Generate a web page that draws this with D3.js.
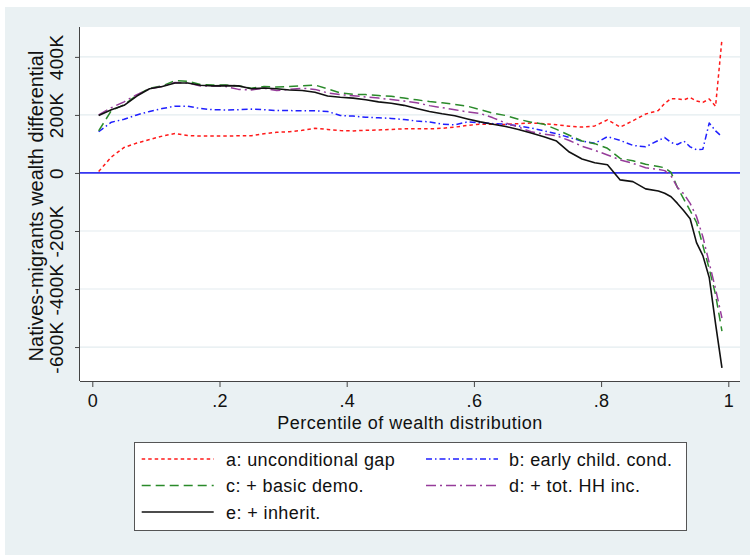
<!DOCTYPE html>
<html>
<head>
<meta charset="utf-8">
<script src="https://cdn.jsdelivr.net/npm/d3@7"></script>
<style>
  html, body { margin: 0; padding: 0; background: #ffffff; }
  svg text { font-family: "Liberation Sans", Arial, sans-serif; fill: #111; }
</style>
</head>
<body>
<svg id="chart" width="750" height="555"></svg>
<script>
// Percentile grid (x values shared by all series)
const pct = [0.01,0.03,0.05,0.07,0.09,0.11,0.13,0.15,0.17,0.19,0.21,0.23,0.25,0.27,0.29,0.31,0.33,0.35,0.37,0.39,
             0.41,0.43,0.45,0.47,0.49,0.51,0.53,0.55,0.57,0.59,0.61,0.63,0.65,0.67,0.69,0.71,0.73,0.75,0.77,0.79,
             0.81,0.83,0.85,0.87,0.89,0.90,0.91,0.92,0.93,0.94,0.95,0.96,0.97,0.98,0.99];

// Natives-migrants wealth differential, in thousands
const gapA = [5,55,88,103,115,127,136,129,127,127,127,128,128,135,140,142,147,154,150,146,
              145,147,148,150,152,152,152,154,158,164,168,168,167,170,172,170,166,161,158,162,
              183,158,180,203,215,240,256,255,252,260,248,243,255,230,460];
const gapB = [142,175,185,200,212,222,230,230,222,218,217,218,220,218,215,215,214,214,212,198,
              196,192,190,188,184,179,176,168,166,176,173,170,168,162,155,145,135,122,110,102,
              125,112,95,90,112,122,105,98,110,90,80,82,172,145,125];
const gapC = [145,215,235,268,292,300,318,316,305,303,303,300,292,298,296,298,300,303,290,276,
              271,270,267,264,258,252,246,242,236,230,218,206,198,185,175,168,150,130,110,101,
              85,50,42,30,22,18,2,-50,-90,-130,-170,-250,-330,-420,-545];
const gapD = [200,225,245,270,290,298,312,310,300,300,298,288,286,292,284,288,292,288,276,270,
              266,262,258,253,248,242,232,225,218,210,205,190,172,158,142,134,128,112,92,78,
              62,45,33,18,12,8,-10,-50,-72,-105,-150,-220,-310,-400,-500];
const gapE = [198,218,233,265,290,298,310,310,302,300,301,300,290,293,290,286,284,278,265,261,
              258,252,245,240,233,222,212,204,197,186,176,168,160,150,138,125,110,72,48,35,
              28,-24,-30,-55,-62,-70,-82,-105,-130,-158,-240,-285,-360,-520,-672];

const seriesLabels = ["a: unconditional gap", "b: early child. cond.", "c: + basic demo.",
                      "d: + tot. HH inc.", "e: + inherit."];
const xTicks = [0, 0.2, 0.4, 0.6, 0.8, 1];
const xTickLabels = ["0", ".2", ".4", ".6", ".8", "1"];
const yTicks = [400, 200, 0, -200, -400, -600];
const yTickLabels = ["400K", "200K", "0", "-200K", "-400K", "-600K"];

const svg = d3.select("#chart");

// Graph region background
svg.append("rect").attr("x", 5).attr("y", 7).attr("width", 745).attr("height", 548)
  .attr("fill", "#eaf1f3");

// Plot region
const region = { left: 80, right: 740, top: 27, bottom: 381 };
svg.append("rect").attr("x", region.left).attr("y", region.top)
  .attr("width", region.right - region.left).attr("height", region.bottom - region.top)
  .attr("fill", "#ffffff");

const x = d3.scaleLinear().domain([0, 1]).range([92.3, 728.3]);
const y = d3.scaleLinear().domain([-717, 503]).range([region.bottom, region.top]);

// Horizontal grid lines
svg.append("g").selectAll("line").data(yTicks).join("line")
  .attr("x1", region.left).attr("x2", region.right)
  .attr("y1", d => y(d)).attr("y2", d => y(d))
  .attr("stroke", "#e3ecef").attr("stroke-width", 1.2);

// Zero reference line
svg.append("line")
  .attr("x1", region.left).attr("x2", region.right)
  .attr("y1", y(0)).attr("y2", y(0))
  .attr("stroke", "#3535f2").attr("stroke-width", 1.7);

// Series lines
const series = [
  { values: gapA, color: "#ff1a1a", dash: "3.5,3", width: 1.5 },
  { values: gapB, color: "#1f1fff", dash: "6,3,1.5,3", width: 1.5 },
  { values: gapC, color: "#2a8a2a", dash: "9,5", width: 1.5 },
  { values: gapD, color: "#963c9a", dash: "10,4,2,4", width: 1.5 },
  { values: gapE, color: "#111111", dash: null, width: 1.6 }
];
const line = d3.line().x(d => x(d[0])).y(d => y(d[1]));
svg.append("g").selectAll("path").data(series).join("path")
  .attr("d", s => line(pct.map((p, i) => [p, s.values[i]])))
  .attr("fill", "none")
  .attr("stroke", s => s.color)
  .attr("stroke-width", s => s.width)
  .attr("stroke-dasharray", s => s.dash)
  .attr("stroke-linejoin", "round");

// Axes
const axisColor = "#444";
const xAxis = d3.axisBottom(x).tickValues(xTicks).tickSize(6)
  .tickFormat((d, i) => xTickLabels[i]);
const gx = svg.append("g").attr("transform", `translate(0,${region.bottom})`).call(xAxis);
gx.select(".domain").attr("d", `M${region.left},0.5H${region.right}`).attr("stroke", axisColor);
gx.selectAll(".tick line").attr("stroke", axisColor);
gx.selectAll(".tick text").attr("y", 26).attr("dy", 0)
  .attr("font-size", 18).style("letter-spacing", "0.3px").attr("fill", "#111");

const yAxis = d3.axisLeft(y).tickValues(yTicks).tickSize(5)
  .tickFormat((d, i) => yTickLabels[i]);
const gy = svg.append("g").attr("transform", `translate(${region.left},0)`).call(yAxis);
gy.select(".domain").attr("d", `M-0.5,${region.top}V${region.bottom}`).attr("stroke", axisColor);
gy.selectAll(".tick line").attr("stroke", axisColor);
gy.selectAll(".tick text")
  .attr("x", 0).attr("dy", 0)
  .attr("transform", "translate(-17,0) rotate(-90)")
  .attr("text-anchor", "middle")
  .attr("font-size", 19).style("letter-spacing", "0.3px").attr("fill", "#111");

// Axis titles
svg.append("text")
  .attr("x", 410).attr("y", 429)
  .attr("text-anchor", "middle").attr("font-size", 18).style("letter-spacing", "0.5px")
  .text("Percentile of wealth distribution");
svg.append("text")
  .attr("transform", `translate(43,${(region.top + region.bottom) / 2 + 2}) rotate(-90)`)
  .attr("text-anchor", "middle").attr("font-size", 20)
  .text("Natives-migrants wealth differential");

// Legend
const legend = svg.append("g");
legend.append("rect").attr("x", 134.5).attr("y", 442.5).attr("width", 552).attr("height", 88)
  .attr("fill", "#ffffff").attr("stroke", "#555").attr("stroke-width", 1);
const legendPos = [
  { sx: 141.7, tx: 226, cy: 459 },
  { sx: 426, tx: 509, cy: 459 },
  { sx: 141.7, tx: 226, cy: 485.5 },
  { sx: 426, tx: 509, cy: 485.5 },
  { sx: 141.7, tx: 226, cy: 512 }
];
series.forEach((s, i) => {
  const p = legendPos[i];
  legend.append("line")
    .attr("x1", p.sx).attr("x2", p.sx + 72).attr("y1", p.cy).attr("y2", p.cy)
    .attr("stroke", s.color).attr("stroke-width", s.width)
    .attr("stroke-dasharray", s.dash);
  legend.append("text")
    .attr("x", p.tx).attr("y", p.cy + 6.5)
    .attr("font-size", 18).style("letter-spacing", "0.4px")
    .text(seriesLabels[i]);
});
</script>
</body>
</html>
